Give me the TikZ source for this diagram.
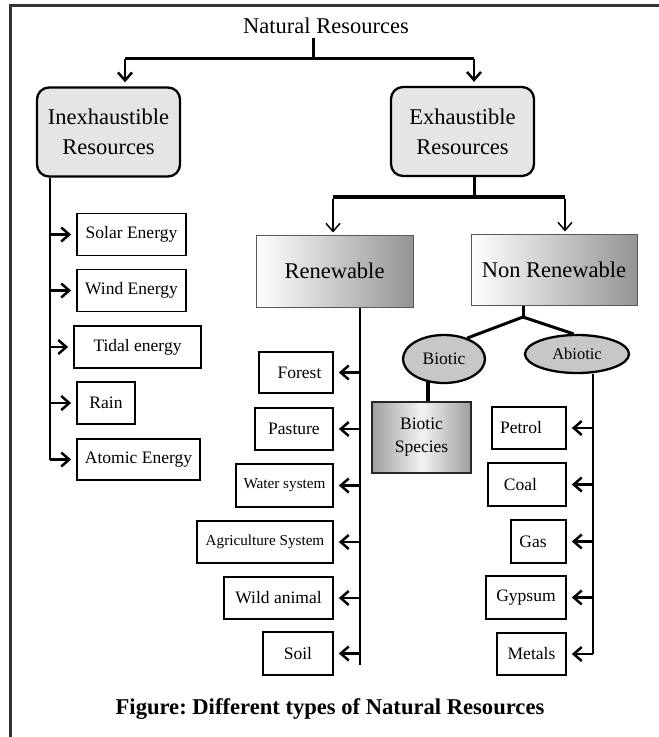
\documentclass[tikz,border=0pt]{standalone}
\usepackage{fontspec}
\setmainfont{Liberation Serif}
\usetikzlibrary{arrows.meta,shapes.geometric,calc}
\frenchspacing
\begin{document}
\begin{tikzpicture}[x=1pt,y=-1pt,
  fs/.style={font=\fontsize{17.5}{21}\selectfont},
  fsm/.style={font=\fontsize{15.2}{18}\selectfont},
  item/.style={draw=black, line width=1.7pt, fill=white, inner sep=0pt, minimum height=42pt},
  head/.style={draw=black, line width=2.3pt, rounded corners=12pt, fill=black!10, align=center,
    font=\fontsize{22.5}{30}\selectfont, minimum width=143pt, minimum height=89pt, inner sep=0pt},
  grad/.style={draw=black!65, line width=1pt, left color=white, right color=black!42,
    font=\fontsize{22.5}{27}\selectfont, inner sep=0pt},
  ell/.style={ellipse, draw=black, line width=2.3pt, fill=black!22, inner sep=0pt},
  thk/.style={line width=3pt},
  thn/.style={line width=1.5pt},
  arr/.style={line width=2.5pt, -{Straight Barb[length=8pt,width=14pt]}},
  arrt/.style={line width=1.5pt, -{Straight Barb[length=8pt,width=14pt]}},
]
\useasboundingbox (0,0) rectangle (659,737);
% frame
\draw[line width=3pt, black!80] (10,737) -- (10,5) -- (659,5);

% title
\node[font=\fontsize{22.5}{27}\selectfont] (nr) at (326,26) {Natural Resources};

% headings
\node[head] (inex) at (108.5,132) {Inexhaustible\\Resources};
\node[head] (exh) at (462.5,131.5) {Exhaustible\\Resources};

\node[grad, minimum width=157pt, minimum height=72pt] (ren) at (334.5,271) {Renewable};
\node[grad, minimum width=166pt, minimum height=71pt] (nren) at (554,269.5) {Non Renewable};

\node[ell, fs, minimum width=82pt, minimum height=48pt] (bio) at (444,359) {Biotic};
\node[ell, font=\fontsize{16.5}{20}\selectfont, minimum width=104pt, minimum height=38pt] (abio) at (577,354) {Abiotic};

\node[draw=black!85, line width=1.6pt, left color=black!38, right color=black!38, middle color=black!5,
  inner sep=0pt, align=center, font=\fontsize{17.5}{23}\selectfont,
  minimum width=99pt, minimum height=71pt] (spec) at (421.5,437.5) {Biotic\\Species};

% inexhaustible items
\node[item, fs, minimum width=109pt] (solar) at (131.5,234.5) {Solar Energy};
\node[item, fs, minimum width=109pt] (wind) at (131.5,290.5) {Wind Energy};
\node[item, fs, minimum width=127pt] (tidal) at (137.5,347) {Tidal energy};
\node[item, fs, minimum width=58pt] (rain) at (106,403) {Rain};
\node[item, fs, minimum width=123pt, minimum height=41pt] (atomic) at (138.5,459.5) {Atomic Energy};

% renewable items
\node[item, fs, minimum width=74pt, minimum height=41pt] (forest) at (296,372.5) {\hspace*{7pt}Forest};
\node[item, fs, minimum width=78pt] (pasture) at (294,429) {Pasture};
\node[item, fsm, minimum width=97pt, minimum height=43pt] (water) at (284.5,485.5) {Water system};
\node[item, fsm, minimum width=136pt] (agri) at (265,542) {Agriculture System};
\node[item, fs, minimum width=109pt] (wild) at (278.5,598) {Wild animal};
\node[item, fs, minimum width=70pt, minimum height=43pt] (soil) at (298,653.5) {Soil};

% abiotic items
\node[item, fs, minimum width=74pt] (petrol) at (529,428) {Petrol\hspace*{16pt}};
\node[item, fs, minimum width=78pt, minimum height=43pt] (coal) at (527,484.5) {Coal\hspace*{13pt}};
\node[item, fs, minimum width=55pt, minimum height=43pt] (gas) at (538.5,541.5) {Gas\hspace*{11pt}};
\node[item, fs, minimum width=80pt, minimum height=43pt] (gyp) at (526,597.5) {Gypsum};
\node[item, fs, minimum width=69pt] (metals) at (531.5,654) {Metals};

% caption
\node[font=\bfseries\fontsize{22.6}{27}\selectfont] (cap) at (330,709) {Figure: Different types of Natural Resources};

% Natural Resources connectors
\coordinate (nrb) at (313,38);
\coordinate (nrj) at (313,58);
\coordinate (la) at (125,58);
\coordinate (ra) at (474,58);
\draw[thk] (nrb) -- (nrj);
\draw[thk] (la) -- (ra);
\draw[arr, shorten >=4pt] ([yshift=-1.3pt]la) -- (la |- inex.north);
\draw[arr, shorten >=4pt] ([yshift=-1.3pt]ra) -- (ra |- exh.north);

% Exhaustible connectors
\coordinate (ej) at (474,197);
\coordinate (bl) at (333,197);
\coordinate (br) at (565,197);
\draw[thk] (exh.south -| ej) -- (ej);
\draw[line width=3.4pt] (bl) -- (br);
\draw[arrt, shorten >=2pt] ([yshift=-1.5pt]bl) -- (bl |- ren.north);
\draw[arrt, shorten >=2pt] ([yshift=-1.5pt]br) -- (br |- nren.north);

% Non renewable connectors
\coordinate (nj) at (523,317);
\draw[thk] (nren.south -| nj) -- (nj);
\draw[thk] (bio.42) -- (nj) -- (abio.100);
\coordinate (bsx) at (428,381);
\draw[line width=3.4pt] (spec.north -| bsx) -- (bsx);

% Inexhaustible branch
\coordinate (ix) at (50,0);
\draw[thn] (inex.south -| ix) -- (atomic.west -| ix);
\foreach \n in {solar,wind,tidal,rain,atomic}
  \draw[arr, shorten >=5pt] (\n.west -| ix) -- (\n.west);

% Renewable branch
\coordinate (rx) at (360,0);
\coordinate (rend) at (360,665);
\draw[thn] (ren.south -| rx) -- (rend);
\foreach \n in {forest,pasture,water,agri,wild,soil}
  \draw[arr, shorten >=5pt] (\n.east -| rx) -- (\n.east);

% Abiotic branch
\coordinate (ax) at (593,0);
\draw[thn] (abio.south -| ax) -- (metals.east -| ax);
\foreach \n in {petrol,coal,gas,gyp,metals}
  \draw[arr, shorten >=5pt] (\n.east -| ax) -- (\n.east);
\end{tikzpicture}
\end{document}
